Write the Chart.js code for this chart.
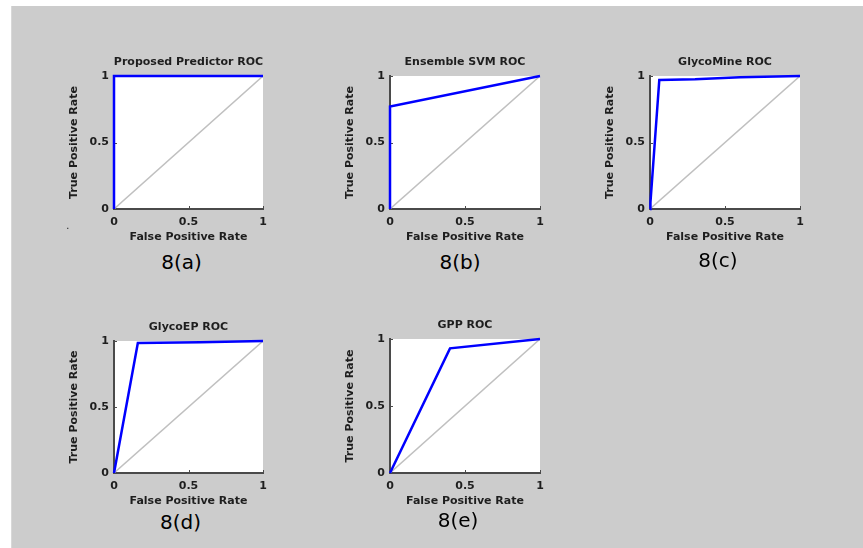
<!DOCTYPE html>
<html><head><meta charset="utf-8">
<script src="https://cdn.jsdelivr.net/npm/chart.js@4"></script>
<style>
html,body{margin:0;padding:0;background:#fff;width:863px;height:548px;overflow:hidden;position:relative;}
#bg{position:absolute;left:11px;top:6px;right:0;bottom:0;background:#cccccc;border-left:1px solid #d8d8d8;}
canvas{position:absolute;}
.cap{position:absolute;font-family:"DejaVu Sans";font-size:20px;color:#000;transform:translate(-50%,-50%);white-space:nowrap;line-height:1;}
.dot{position:absolute;font-family:"DejaVu Sans";font-size:11px;color:#333;line-height:1;}
</style></head><body>
<div id="bg"></div>
<script>
// ---- data ----
const panelTitles = ['Proposed Predictor ROC', 'Ensemble SVM ROC', 'GlycoMine ROC', 'GlycoEP ROC', 'GPP ROC'];
const captions = ['8(a)', '8(b)', '8(c)', '8(d)', '8(e)'];
const xTitle = 'False Positive Rate';
const yTitle = 'True Positive Rate';
const tickValues = [0, 0.5, 1];
const diagFpr = [0, 1];
const diagTpr = [0, 1];
const fprA = [0, 0, 1];
const tprA = [0, 1, 1];
const fprB = [0, 0, 1];
const tprB = [0, 0.77, 1];
const fprC = [0, 0.003, 0.062, 0.3, 0.6, 1];
const tprC = [0, 0.05, 0.97, 0.975, 0.99, 1];
const fprD = [0, 0.01, 0.16, 0.58, 1];
const tprD = [0, 0.06, 0.985, 0.99, 1];
const fprE = [0, 0.4, 1];
const tprE = [0, 0.93, 1];
const seriesFpr = [fprA, fprB, fprC, fprD, fprE];
const seriesTpr = [tprA, tprB, tprC, tprD, tprE];

// ---- layout (plot-area boxes in page pixels) ----
const boxes = [
  {L:114, T:76, R:263, B:209, cx:181.5, cy:262},
  {L:390, T:76, R:540, B:209, cx:460, cy:262},
  {L:650, T:76, R:800, B:209, cx:718, cy:260},
  {L:114, T:341, R:263, B:473, cx:180.5, cy:522},
  {L:390, T:339, R:540, B:473, cx:458, cy:520}
];
const SIDE = 60, TOPH = 30, BOTH = 36;
const smallFont = {family:'DejaVu Sans', size:11, weight:'bold'};
const textColor = '#1e1e1e';
const axisColor = '#4a4a4a';

const plotBg = {
  id:'plotBg',
  beforeDraw(chart){
    const {ctx, chartArea:a} = chart;
    ctx.save(); ctx.fillStyle = '#ffffff';
    ctx.fillRect(a.left, a.top, a.width, a.height);
    ctx.restore();
  }
};
const innerTicks = {
  id:'innerTicks',
  beforeDatasetsDraw(chart){
    const {ctx, chartArea:a, scales:{x, y}} = chart;
    ctx.save(); ctx.strokeStyle = axisColor; ctx.lineWidth = 1;
    x.ticks.forEach(t => {
      const px = Math.round(x.getPixelForValue(t.value)) + 0.5;
      ctx.beginPath(); ctx.moveTo(px, a.bottom); ctx.lineTo(px, a.bottom - 3); ctx.stroke();
    });
    y.ticks.forEach(t => {
      const py = Math.round(y.getPixelForValue(t.value)) + 0.5;
      ctx.beginPath(); ctx.moveTo(a.left, py); ctx.lineTo(a.left + 3, py); ctx.stroke();
    });
    ctx.restore();
  }
};
// title centred over the plot area (as MATLAB does)
const plotTitle = {
  id:'plotTitle',
  afterDraw(chart, args, opts){
    const {ctx, chartArea:a} = chart;
    ctx.save();
    ctx.font = 'bold 11px "DejaVu Sans"';
    ctx.fillStyle = textColor;
    ctx.textAlign = 'center'; ctx.textBaseline = 'middle';
    ctx.fillText(opts.text, (a.left + a.right) / 2, a.top - 14);
    ctx.restore();
  }
};

function pts(xs, ys){ return xs.map((v, i) => ({x:v, y:ys[i]})); }

boxes.forEach((b, i) => {
  const cv = document.createElement('canvas');
  const w = (b.R - b.L) + 2 * SIDE, h = (b.B - b.T) + TOPH + BOTH;
  cv.width = w; cv.height = h;
  cv.style.left = (b.L - SIDE) + 'px'; cv.style.top = (b.T - TOPH) + 'px';
  cv.style.width = w + 'px'; cv.style.height = h + 'px';
  document.body.appendChild(cv);

  new Chart(cv, {
    type:'scatter',
    data:{datasets:[
      {data:pts(diagFpr, diagTpr), showLine:true, borderColor:'#c0c0c0', borderWidth:1.5, pointRadius:0, order:2},
      {data:pts(seriesFpr[i], seriesTpr[i]), showLine:true, borderColor:'#0000ff', borderWidth:2.5, pointRadius:0, order:1, clip:false}
    ]},
    options:{
      responsive:false, animation:false, devicePixelRatio:1, events:[],
      layout:{padding:{left:0, right:SIDE, top:TOPH, bottom:0}},
      plugins:{
        legend:{display:false}, tooltip:{enabled:false}, title:{display:false},
        plotTitle:{text:panelTitles[i]}
      },
      scales:{
        x:{type:'linear', min:0, max:1,
           afterBuildTicks:s => { s.ticks = tickValues.map(v => ({value:v})); },
           afterFit:s => { s.height = BOTH; },
           ticks:{font:smallFont, color:textColor, padding:7, maxRotation:0, autoSkip:false, callback:v => String(v)},
           grid:{display:false, drawTicks:false},
           border:{display:true, color:axisColor, width:2},
           title:{display:true, text:xTitle, font:smallFont, color:textColor, padding:{top:0, bottom:1}}},
        y:{type:'linear', min:0, max:1,
           afterBuildTicks:s => { s.ticks = tickValues.map(v => ({value:v})); },
           afterFit:s => { s.width = SIDE; },
           ticks:{font:smallFont, color:textColor, padding:5, autoSkip:false, callback:v => String(v)},
           grid:{display:false, drawTicks:false},
           border:{display:true, color:axisColor, width:2},
           title:{display:true, text:yTitle, font:smallFont, color:textColor, padding:{top:13.5, bottom:0}}}
      }
    },
    plugins:[plotBg, innerTicks, plotTitle]
  });

  const cap = document.createElement('div');
  cap.className = 'cap'; cap.textContent = captions[i];
  cap.style.left = b.cx + 'px'; cap.style.top = b.cy + 'px';
  document.body.appendChild(cap);
});

const dot = document.createElement('div');
dot.className = 'dot'; dot.textContent = '.';
dot.style.left = '66px'; dot.style.top = '220px';
document.body.appendChild(dot);
</script>
</body></html>
